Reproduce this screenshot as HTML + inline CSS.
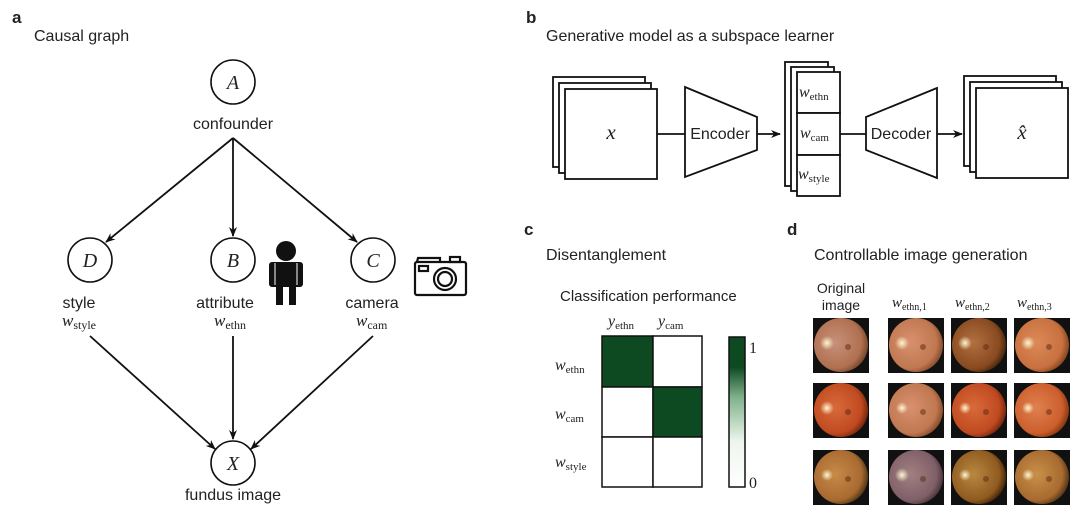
<!DOCTYPE html>
<html><head><meta charset="utf-8"><style>
body{margin:0;background:#fff}
svg{display:block}
.s{font-family:"Liberation Sans",sans-serif;fill:#222}
.m{font-family:"Liberation Serif",serif;font-style:italic;fill:#222}
.r{font-family:"Liberation Serif",serif;font-style:normal}
</style></head><body>
<svg width="1080" height="516" viewBox="0 0 1080 516" xmlns="http://www.w3.org/2000/svg">
<defs>
<marker id="ah" markerWidth="10" markerHeight="10" refX="9" refY="5" orient="auto" markerUnits="userSpaceOnUse"><path d="M0,1 L10,5 L0,9 L3,5z" fill="#111"/></marker>
<radialGradient id="f1" cx="0.4" cy="0.45" r="0.6"><stop offset="0" stop-color="#c8907a"/><stop offset="0.8" stop-color="#b07050"/><stop offset="1" stop-color="#7a4a30"/></radialGradient>
<radialGradient id="f2" cx="0.4" cy="0.45" r="0.6"><stop offset="0" stop-color="#d86a3a"/><stop offset="0.8" stop-color="#c04a20"/><stop offset="1" stop-color="#7a2a10"/></radialGradient>
<radialGradient id="f3" cx="0.4" cy="0.45" r="0.6"><stop offset="0" stop-color="#c88a48"/><stop offset="0.8" stop-color="#a86a30"/><stop offset="1" stop-color="#5a3a18"/></radialGradient>
<radialGradient id="f4" cx="0.4" cy="0.45" r="0.6"><stop offset="0" stop-color="#d89070"/><stop offset="0.8" stop-color="#c07850"/><stop offset="1" stop-color="#8a5030"/></radialGradient>
<radialGradient id="f5" cx="0.4" cy="0.45" r="0.6"><stop offset="0" stop-color="#b07040"/><stop offset="0.8" stop-color="#8a4a20"/><stop offset="1" stop-color="#4a2a10"/></radialGradient>
<radialGradient id="f6" cx="0.4" cy="0.45" r="0.6"><stop offset="0" stop-color="#dc8a58"/><stop offset="0.8" stop-color="#c87040"/><stop offset="1" stop-color="#8a4a20"/></radialGradient>
<radialGradient id="f7" cx="0.4" cy="0.45" r="0.6"><stop offset="0" stop-color="#e08050"/><stop offset="0.8" stop-color="#cc5e2c"/><stop offset="1" stop-color="#8a3a14"/></radialGradient>
<radialGradient id="f8" cx="0.4" cy="0.45" r="0.6"><stop offset="0" stop-color="#a08080"/><stop offset="0.8" stop-color="#806068"/><stop offset="1" stop-color="#503840"/></radialGradient>
<radialGradient id="f9" cx="0.4" cy="0.45" r="0.6"><stop offset="0" stop-color="#b88840"/><stop offset="0.8" stop-color="#905a20"/><stop offset="1" stop-color="#4a2a0a"/></radialGradient>
<radialGradient id="fa" cx="0.4" cy="0.45" r="0.6"><stop offset="0" stop-color="#c89048"/><stop offset="0.8" stop-color="#a86a30"/><stop offset="1" stop-color="#5a3a18"/></radialGradient>
<radialGradient id="disc"><stop offset="0" stop-color="#fff6d0"/><stop offset="1" stop-color="#fff6d0" stop-opacity="0"/></radialGradient>
<linearGradient id="cb" x1="0" y1="1" x2="0" y2="0"><stop offset="0" stop-color="#fff"/><stop offset="0.3" stop-color="#eef6ee"/><stop offset="0.6" stop-color="#7fb08a"/><stop offset="0.8" stop-color="#0d4a22"/><stop offset="1" stop-color="#0d4a22"/></linearGradient>
</defs>

<!-- panel a -->
<text x="12" y="23" class="s" font-weight="bold" font-size="17">a</text>
<text x="34" y="41" class="s" font-size="16">Causal graph</text>
<g fill="none" stroke="#111" stroke-width="1.6">
<circle cx="233" cy="82" r="22"/><circle cx="90" cy="260" r="22"/><circle cx="233" cy="260" r="22"/><circle cx="373" cy="260" r="22"/><circle cx="233" cy="463" r="22"/>
</g>
<text x="233" y="89" class="m" font-size="20" text-anchor="middle">A</text>
<text x="90" y="267" class="m" font-size="20" text-anchor="middle">D</text>
<text x="233" y="267" class="m" font-size="20" text-anchor="middle">B</text>
<text x="373" y="267" class="m" font-size="20" text-anchor="middle">C</text>
<text x="233" y="470" class="m" font-size="20" text-anchor="middle">X</text>
<text x="233" y="129" class="s" font-size="16" text-anchor="middle">confounder</text>
<text x="79" y="308" class="s" font-size="16" text-anchor="middle">style</text>
<text x="225" y="308" class="s" font-size="16" text-anchor="middle">attribute</text>
<text x="372" y="308" class="s" font-size="16" text-anchor="middle">camera</text>
<text x="233" y="500" class="s" font-size="16" text-anchor="middle">fundus image</text>
<text x="62" y="326" class="m" font-size="17">w<tspan class="r" font-size="12" dy="3">style</tspan></text>
<text x="214" y="326" class="m" font-size="17">w<tspan class="r" font-size="12" dy="3">ethn</tspan></text>
<text x="356" y="326" class="m" font-size="17">w<tspan class="r" font-size="12" dy="3">cam</tspan></text>
<g stroke="#111" stroke-width="1.8" fill="none" marker-end="url(#ah)">
<path d="M233,138 L106,242"/><path d="M233,138 L233,236"/><path d="M233,138 L357,242"/>
<path d="M90,336 L215,449"/><path d="M233,336 L233,439"/><path d="M373,336 L251,449"/>
</g>
<!-- person -->
<g fill="#111"><circle cx="286" cy="251" r="10"/><rect x="269" y="262" width="34" height="25" rx="3"/><rect x="276" y="284" width="7" height="21"/><rect x="289" y="284" width="7" height="21"/></g>
<g stroke="#fff" stroke-width="1"><line x1="275" y1="263" x2="275" y2="285"/><line x1="297" y1="263" x2="297" y2="285"/></g>
<!-- camera -->
<g fill="none" stroke="#111" stroke-width="2.2"><rect x="415" y="262" width="51" height="33" rx="2"/><circle cx="445" cy="279" r="11"/><circle cx="445" cy="279" r="7"/><rect x="419" y="266" width="9" height="5"/><rect x="450" y="257" width="10" height="5"/><path d="M417,262 L418,258 L440,258 L440,262"/></g>

<!-- panel b -->
<text x="526" y="23" class="s" font-weight="bold" font-size="17">b</text>
<text x="546" y="41" class="s" font-size="16">Generative model as a subspace learner</text>
<g fill="#fff" stroke="#111" stroke-width="1.8">
<rect x="553" y="77" width="92" height="90"/><rect x="559" y="83" width="92" height="90"/><rect x="565" y="89" width="92" height="90"/>
<path d="M685,87 L757,117 L757,150 L685,177z"/>
<rect x="785" y="62" width="43" height="124"/><rect x="791" y="67" width="43" height="124"/>
<rect x="797" y="72" width="43" height="41"/><rect x="797" y="113" width="43" height="42"/><rect x="797" y="155" width="43" height="41"/>
<path d="M866,117 L937,88 L937,178 L866,150z"/>
<rect x="964" y="76" width="92" height="90"/><rect x="970" y="82" width="92" height="90"/><rect x="976" y="88" width="92" height="90"/>
</g>
<g stroke="#111" stroke-width="1.8" marker-end="url(#ah)"><path d="M657,134 L685,134 M757,134 L780,134"/><path d="M840,134 L866,134 M937,134 L962,134"/></g>
<text x="611" y="139" class="m" font-size="21" text-anchor="middle">x</text>
<text x="1022" y="139" class="m" font-size="21" text-anchor="middle">x̂</text>
<text x="720" y="139" class="s" font-size="16" text-anchor="middle">Encoder</text>
<text x="901" y="139" class="s" font-size="16" text-anchor="middle">Decoder</text>
<text x="799" y="97" class="m" font-size="16">w<tspan class="r" font-size="11" dy="3">ethn</tspan></text>
<text x="800" y="138" class="m" font-size="16">w<tspan class="r" font-size="11" dy="3">cam</tspan></text>
<text x="798" y="179" class="m" font-size="16">w<tspan class="r" font-size="11" dy="3">style</tspan></text>

<!-- panel c -->
<text x="524" y="235" class="s" font-weight="bold" font-size="17">c</text>
<text x="546" y="260" class="s" font-size="16">Disentanglement</text>
<text x="560" y="301" class="s" font-size="15">Classification performance</text>
<text x="608" y="326" class="m" font-size="16">y<tspan class="r" font-size="11" dy="3">ethn</tspan></text>
<text x="658" y="326" class="m" font-size="16">y<tspan class="r" font-size="11" dy="3">cam</tspan></text>
<text x="555" y="370" class="m" font-size="16">w<tspan class="r" font-size="11" dy="3">ethn</tspan></text>
<text x="555" y="419" class="m" font-size="16">w<tspan class="r" font-size="11" dy="3">cam</tspan></text>
<text x="555" y="467" class="m" font-size="16">w<tspan class="r" font-size="11" dy="3">style</tspan></text>
<g stroke="#111" stroke-width="1.5">
<rect x="602" y="336" width="51" height="51" fill="#0d4a22"/><rect x="653" y="336" width="49" height="51" fill="#fff"/>
<rect x="602" y="387" width="51" height="50" fill="#fff"/><rect x="653" y="387" width="49" height="50" fill="#0d4a22"/>
<rect x="602" y="437" width="51" height="50" fill="#fff"/><rect x="653" y="437" width="49" height="50" fill="#fff"/>
<rect x="729" y="337" width="16" height="150" fill="url(#cb)"/>
</g>
<text x="749" y="353" font-family="Liberation Serif" font-size="16" fill="#222">1</text>
<text x="749" y="488" font-family="Liberation Serif" font-size="16" fill="#222">0</text>

<!-- panel d -->
<text x="787" y="235" class="s" font-weight="bold" font-size="17">d</text>
<text x="814" y="260" class="s" font-size="16">Controllable image generation</text>
<text x="841" y="293" class="s" font-size="14" text-anchor="middle">Original</text>
<text x="841" y="310" class="s" font-size="14" text-anchor="middle">image</text>
<text x="892" y="307" class="m" font-size="15">w<tspan class="r" font-size="10" dy="3">ethn,1</tspan></text>
<text x="955" y="307" class="m" font-size="15">w<tspan class="r" font-size="10" dy="3">ethn,2</tspan></text>
<text x="1017" y="307" class="m" font-size="15">w<tspan class="r" font-size="10" dy="3">ethn,3</tspan></text>
<g>
<rect x="813" y="318" width="56" height="55" fill="#111"/><circle cx="841" cy="345" r="27" fill="url(#f1)"/>
<rect x="888" y="318" width="56" height="55" fill="#111"/><circle cx="916" cy="345" r="27" fill="url(#f4)"/>
<rect x="951" y="318" width="56" height="55" fill="#111"/><circle cx="979" cy="345" r="27" fill="url(#f5)"/>
<rect x="1014" y="318" width="56" height="55" fill="#111"/><circle cx="1042" cy="345" r="27" fill="url(#f6)"/>
<rect x="813" y="383" width="56" height="55" fill="#111"/><circle cx="841" cy="410" r="27" fill="url(#f2)"/>
<rect x="888" y="383" width="56" height="55" fill="#111"/><circle cx="916" cy="410" r="27" fill="url(#f4)"/>
<rect x="951" y="383" width="56" height="55" fill="#111"/><circle cx="979" cy="410" r="27" fill="url(#f2)"/>
<rect x="1014" y="383" width="56" height="55" fill="#111"/><circle cx="1042" cy="410" r="27" fill="url(#f7)"/>
<rect x="813" y="450" width="56" height="55" fill="#111"/><circle cx="841" cy="477" r="27" fill="url(#f3)"/>
<rect x="888" y="450" width="56" height="55" fill="#111"/><circle cx="916" cy="477" r="27" fill="url(#f8)"/>
<rect x="951" y="450" width="56" height="55" fill="#111"/><circle cx="979" cy="477" r="27" fill="url(#f9)"/>
<rect x="1014" y="450" width="56" height="55" fill="#111"/><circle cx="1042" cy="477" r="27" fill="url(#fa)"/>
</g>
<g fill="url(#disc)">
<circle cx="827" cy="343" r="7"/><circle cx="902" cy="343" r="7"/><circle cx="965" cy="343" r="7"/><circle cx="1028" cy="343" r="7"/>
<circle cx="827" cy="408" r="7"/><circle cx="902" cy="408" r="6"/><circle cx="965" cy="408" r="6"/><circle cx="1028" cy="408" r="6"/>
<circle cx="827" cy="475" r="6"/><circle cx="902" cy="475" r="7"/><circle cx="965" cy="475" r="6"/><circle cx="1028" cy="475" r="6"/>
</g>
<g fill="#5a2a10" opacity="0.5">
<circle cx="848" cy="347" r="3"/><circle cx="923" cy="347" r="3"/><circle cx="986" cy="347" r="3"/><circle cx="1049" cy="347" r="3"/>
<circle cx="848" cy="412" r="3"/><circle cx="923" cy="412" r="3"/><circle cx="986" cy="412" r="3"/><circle cx="1049" cy="412" r="3"/>
<circle cx="848" cy="479" r="3"/><circle cx="923" cy="479" r="3"/><circle cx="986" cy="479" r="3"/><circle cx="1049" cy="479" r="3"/>
</g>
</svg>
</body></html>
